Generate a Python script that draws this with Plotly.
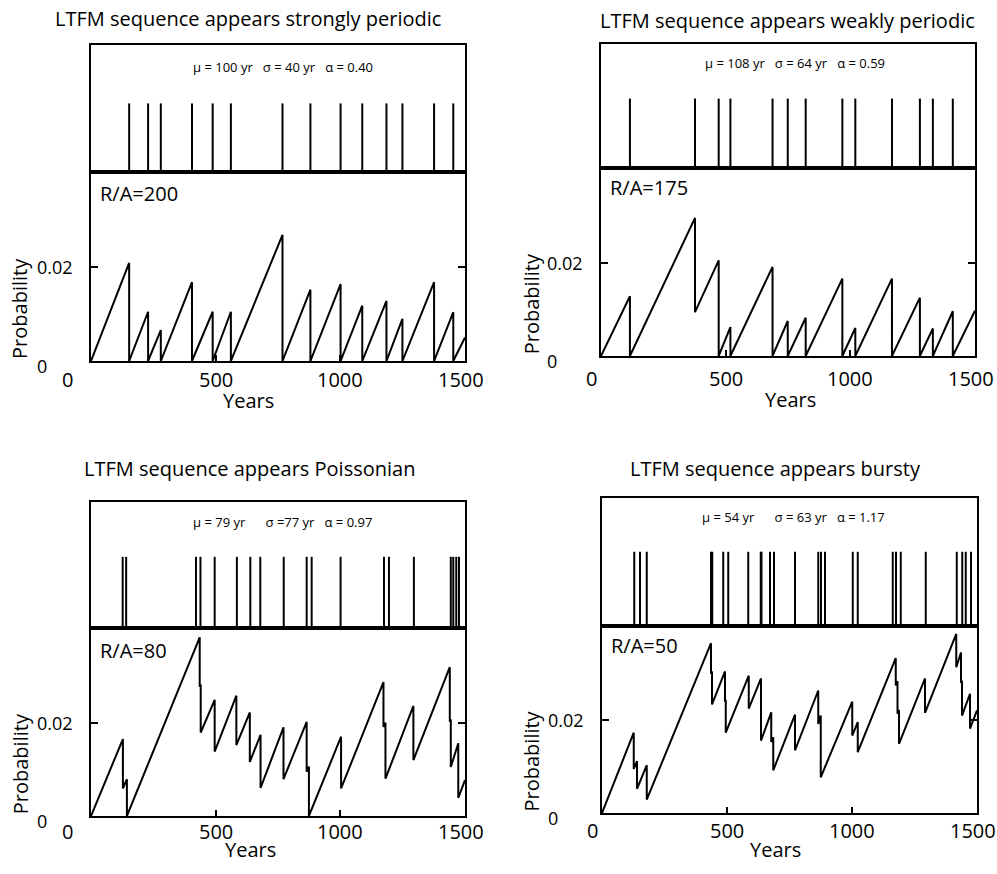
import plotly.graph_objects as go

W, H = 997, 874

# ---------------- data ----------------
titles = ["LTFM sequence appears strongly periodic",
          "LTFM sequence appears weakly periodic",
          "LTFM sequence appears Poissonian",
          "LTFM sequence appears bursty"]
stats = ["\u03bc = 100 yr\u00a0\u00a0\u00a0\u03c3 = 40 yr\u00a0\u00a0\u00a0\u03b1 = 0.40",
         "\u03bc = 108 yr\u00a0\u00a0\u00a0\u03c3 = 64 yr\u00a0\u00a0\u00a0\u03b1 = 0.59",
         "\u03bc = 79 yr\u00a0\u00a0\u00a0\u00a0\u00a0\u00a0\u03c3 =77 yr\u00a0\u00a0\u00a0\u03b1 = 0.97",
         "\u03bc = 54 yr\u00a0\u00a0\u00a0\u00a0\u00a0\u00a0\u03c3 = 63 yr\u00a0\u00a0\u00a0\u03b1 = 1.17"]
ra_labels = ["R/A=200", "R/A=175", "R/A=80", "R/A=50"]

events_1 = [153, 229, 280, 405, 488, 561, 768, 880, 1001, 1088, 1185, 1249, 1376, 1453]
events_2 = [116, 377, 472, 519, 688, 749, 821, 968, 1020, 1167, 1279, 1331, 1411]
events_3 = [127, 141, 421, 439, 496, 585, 639, 679, 773, 865, 885, 1001, 1175, 1195,
            1295, 1443, 1453, 1465, 1476]
events_4 = [129, 152, 179, 436, 441, 485, 505, 585, 635, 638, 672, 688, 772, 865, 876,
            892, 1003, 1023, 1163, 1176, 1195, 1295, 1419, 1441, 1455, 1476]

years_1 = [0, 153, 153, 229, 229, 280, 280, 405, 405, 488, 488, 561, 561, 768, 768,
           880, 880, 1001, 1001, 1088, 1088, 1185, 1185, 1249, 1249, 1376, 1376,
           1453, 1453, 1500]
prob_1 = [0, 0.0209, 0, 0.0105, 0, 0.0066, 0, 0.0168, 0, 0.0105, 0, 0.0105, 0,
          0.0269, 0, 0.0152, 0, 0.0164, 0, 0.0118, 0, 0.0128, 0, 0.0090, 0,
          0.0168, 0, 0.0104, 0, 0.0050]

years_2 = [0, 116, 116, 377, 377, 472, 472, 519, 519, 688, 688, 749, 749, 821, 821,
           968, 968, 1020, 1020, 1167, 1167, 1279, 1279, 1331, 1331, 1411, 1411, 1500]
prob_2 = [0, 0.0128, 0, 0.0296, 0.0094, 0.0205, 0, 0.0062, 0, 0.0191, 0, 0.0075, 0,
          0.0082, 0, 0.0166, 0, 0.0060, 0, 0.0166, 0, 0.0125, 0, 0.0059, 0,
          0.0096, 0, 0.0097]

years_3 = [0, 128, 128, 144, 144, 436, 436, 440, 440, 496, 496, 583, 583, 637, 637,
           680, 680, 772, 772, 865, 865, 874, 874, 1003, 1003, 1173, 1173, 1181, 1181,
           1293, 1293, 1439, 1439, 1443, 1443, 1473, 1473, 1500]
prob_3 = [0, 0.0165, 0.0059, 0.0079, 0, 0.0383, 0.0277, 0.0282, 0.0179, 0.0249, 0.0138,
          0.0258, 0.0152, 0.0222, 0.0116, 0.0174, 0.0060, 0.0190, 0.0079, 0.0202, 0.0095,
          0.0106, 0, 0.0170, 0.0059, 0.0287, 0.0191, 0.0200, 0.0080, 0.0236, 0.0120,
          0.0319, 0.0202, 0.0207, 0.0105, 0.0156, 0.0039, 0.0077]

years_4 = [0, 127, 127, 140, 140, 179, 179, 436, 436, 440, 440, 492, 492, 495, 495,
           587, 587, 636, 636, 677, 677, 685, 685, 772, 772, 865, 865, 875, 875,
           1001, 1001, 1023, 1023, 1175, 1175, 1182, 1182, 1188, 1188, 1292, 1292,
           1417, 1417, 1436, 1436, 1440, 1440, 1472, 1472, 1500]
prob_4 = [0, 0.0173, 0.0095, 0.0112, 0.0052, 0.0103, 0.0029, 0.0366, 0.0300, 0.0305,
          0.0234, 0.0305, 0.0240, 0.0244, 0.0173, 0.0296, 0.0225, 0.0290, 0.0156,
          0.0217, 0.0153, 0.0163, 0.0092, 0.0212, 0.0135, 0.0264, 0.0192, 0.0210,
          0.0077, 0.0240, 0.0167, 0.0196, 0.0131, 0.0334, 0.0275, 0.0284, 0.0214,
          0.0222, 0.0149, 0.0290, 0.0216, 0.0386, 0.0314, 0.0346, 0.0280, 0.0285,
          0.0210, 0.0257, 0.0182, 0.0221]

x_ticks = [0, 500, 1000, 1500]
x_tick_labels = ["0", "500", "1000", "1500"]
y_ticks = [0, 0.02]
y_tick_labels = ["0", "0.02"]
x_label = "Years"
y_label = "Probability"

events = [events_1, events_2, events_3, events_4]
curves = [(years_1, prob_1), (years_2, prob_2), (years_3, prob_3), (years_4, prob_4)]

# ---------------- layout (pixel boxes) ----------------
boxes = [
    dict(x0=91, x1=465, top=45, mid=172, bot=361, lh=0.54, title_x=248, title_y=18,
         stat_x=283, stat_y=67, ra_y=193, xt_y=379, xl_x=248, xl_y=400, ylab_x=20,
         x0shift=-24),
    dict(x0=601, x1=975, top=44, mid=168, bot=356, lh=0.56, title_x=787, title_y=20,
         stat_x=795, stat_y=63, ra_y=188, xt_y=378, xl_x=790, xl_y=399, ylab_x=531,
         x0shift=-10),
    dict(x0=91, x1=465, top=502, mid=628, bot=816, lh=0.565, title_x=249, title_y=468,
         stat_x=282, stat_y=522, ra_y=650, xt_y=831, xl_x=250, xl_y=849, ylab_x=20,
         x0shift=-24),
    dict(x0=602, x1=977, top=498, mid=626, bot=813, lh=0.58, title_x=775, title_y=468,
         stat_x=793, stat_y=517, ra_y=645, xt_y=830, xl_x=775, xl_y=849, ylab_x=531,
         x0shift=-10),
]
YMAX = 0.0403
FONT = "Open Sans"

def px(x):
    return x / W

def py(y):
    return 1 - y / H

fig = go.Figure()
layout = dict(width=W, height=H, margin=dict(l=0, r=0, t=0, b=0),
              paper_bgcolor="white", plot_bgcolor="white", showlegend=False,
              font=dict(family=FONT, color="black"))
annotations = []

for i, b in enumerate(boxes):
    sa = 2 * i + 1
    pa = 2 * i + 2
    sx = "x" if sa == 1 else f"x{sa}"
    sy = "y" if sa == 1 else f"y{sa}"
    pxn, pyn = f"x{pa}", f"y{pa}"
    xd = [px(b["x0"]), px(b["x1"])]

    axline = dict(showline=True, linecolor="black", linewidth=2, mirror=True,
                  showgrid=False, zeroline=False)
    layout["xaxis" if sa == 1 else f"xaxis{sa}"] = dict(
        domain=xd, range=[0, 1500], anchor=sy, showticklabels=False, ticks="", **axline)
    layout["yaxis" if sa == 1 else f"yaxis{sa}"] = dict(
        domain=[py(b["mid"]), py(b["top"])], range=[0, 1], anchor=sx,
        showticklabels=False, ticks="", **axline)
    layout[f"xaxis{pa}"] = dict(
        domain=xd, range=[0, 1500], anchor=pyn, tickvals=x_ticks, ticks="inside",
        ticklen=6, tickwidth=2, tickcolor="black", showticklabels=False, **axline)
    layout[f"yaxis{pa}"] = dict(
        domain=[py(b["bot"]), py(b["mid"])], range=[0, YMAX], anchor=pxn,
        tickvals=[0.02], ticks="inside", ticklen=7, tickwidth=2, tickcolor="black",
        showticklabels=False, showline=True, linecolor="black", linewidth=2,
        mirror="ticks", showgrid=False, zeroline=False)

    # event strip
    ex, ey = [], []
    for e in events[i]:
        ex += [e, e, None]
        ey += [0, b["lh"], None]
    fig.add_trace(go.Scatter(x=ex, y=ey, mode="lines", xaxis=sx, yaxis=sy,
                             line=dict(color="black", width=2), hoverinfo="skip"))
    # probability curve
    cx, cy = curves[i]
    fig.add_trace(go.Scatter(x=cx, y=cy, mode="lines", xaxis=pxn, yaxis=pyn,
                             line=dict(color="black", width=2), hoverinfo="skip"))

    # texts
    annotations.append(dict(text=titles[i], x=px(b["title_x"]), y=py(b["title_y"]),
                            xref="paper", yref="paper", showarrow=False,
                            font=dict(size=20), xanchor="center", yanchor="middle"))
    annotations.append(dict(text=stats[i], x=px(b["stat_x"]), y=py(b["stat_y"]),
                            xref="paper", yref="paper", showarrow=False,
                            font=dict(size=13), xanchor="center", yanchor="middle"))
    annotations.append(dict(text=ra_labels[i], x=px(b["x0"] + 7), y=py(b["ra_y"]),
                            xref="paper", yref="paper", showarrow=False,
                            font=dict(size=20), xanchor="left", yanchor="middle"))
    for v, t in zip(x_ticks, x_tick_labels):
        shift = b["x0shift"] if v == 0 else (-4 if v == 1500 else 0)
        annotations.append(dict(text=t, x=v, y=py(b["xt_y"]), xref=pxn, yref="paper",
                                xshift=shift, showarrow=False, font=dict(size=20),
                                xanchor="center", yanchor="middle"))
    annotations.append(dict(text=x_label, x=px(b["xl_x"]), y=py(b["xl_y"]), xref="paper",
                            yref="paper", showarrow=False, font=dict(size=20),
                            xanchor="center", yanchor="middle"))
    for v, t in zip(y_ticks, y_tick_labels):
        annotations.append(dict(text=t, x=px(b["x0"] - 16 if v == 0.02 else b["x0"] - 49),
                                y=v, yref=pyn, xref="paper",
                                yshift=0 if v == 0.02 else -5, showarrow=False,
                                font=dict(size=18), xanchor="right" if v == 0.02 else "center",
                                yanchor="middle"))
    annotations.append(dict(text=y_label, x=px(b["ylab_x"]), y=0.0111, xref="paper",
                            yref=pyn, textangle=-90, showarrow=False, font=dict(size=20),
                            xanchor="center", yanchor="middle"))

layout["annotations"] = annotations
fig.update_layout(**layout)
fig.write_html("out.html", config={"displayModeBar": False},
               post_script="document.body.style.margin='0';")
